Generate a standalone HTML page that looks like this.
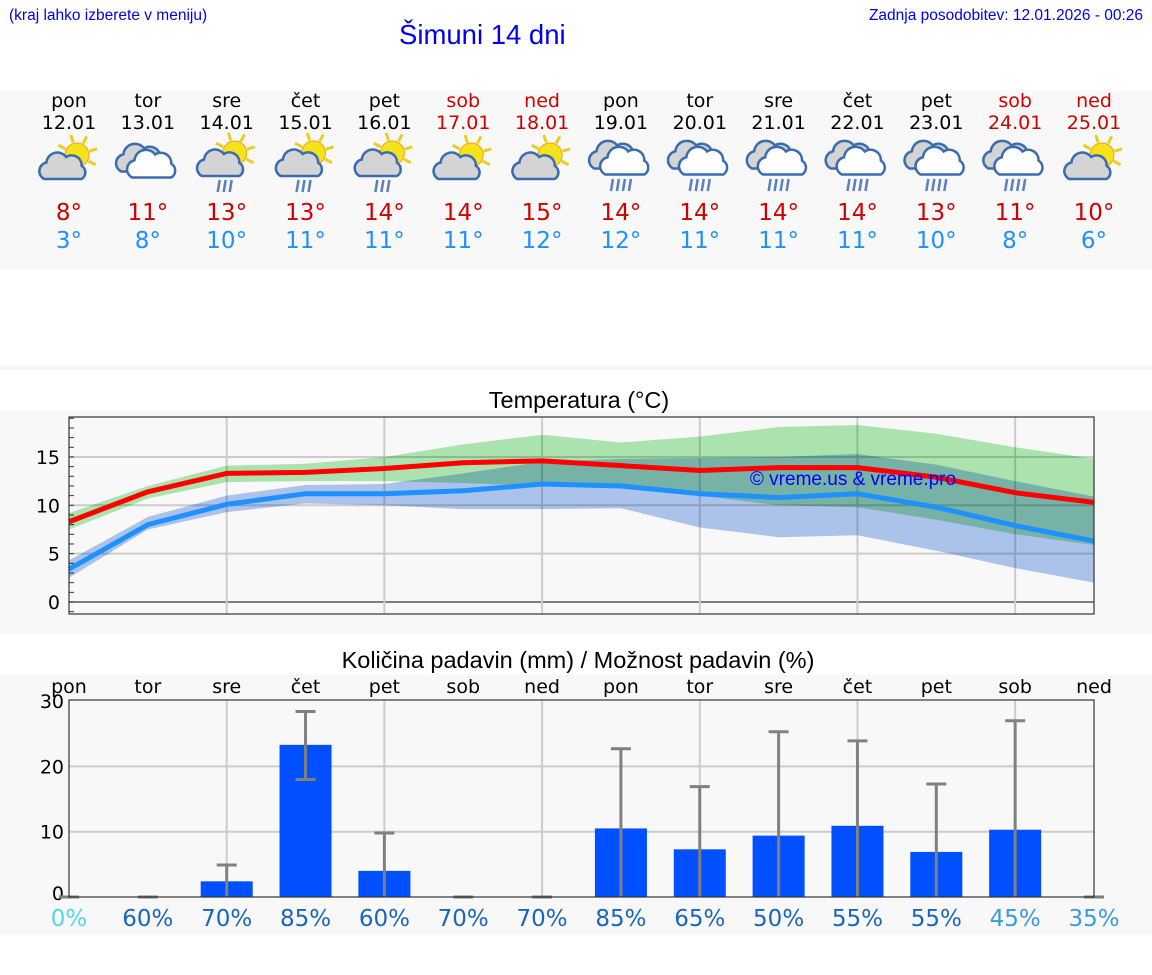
<!DOCTYPE html>
<html><head><meta charset="utf-8"><style>
body{margin:0;width:1152px;height:975px;background:#fff;position:relative;overflow:hidden;font-family:"DejaVu Sans","Liberation Sans",sans-serif}
.abs{position:absolute}
.mb{mix-blend-mode:multiply}
</style></head><body>
<div class="abs" style="left:9px;top:7px;font:15.5px 'Liberation Sans',sans-serif;color:#0000ee">(kraj lahko izberete v meniju)</div>
<div class="abs" style="left:399px;top:19px;font:27.5px 'Liberation Sans',sans-serif;color:#0000ee">Šimuni 14 dni</div>
<div class="abs" style="right:9px;top:7px;font:15.5px 'Liberation Sans',sans-serif;color:#0000ee">Zadnja posodobitev: 12.01.2026 - 00:26</div>
<svg id="s" class="abs" style="left:0;top:0" width="1152" height="975"></svg>
<script>
const days=["pon","tor","sre","čet","pet","sob","ned","pon","tor","sre","čet","pet","sob","ned"];
const dates=["12.01","13.01","14.01","15.01","16.01","17.01","18.01","19.01","20.01","21.01","22.01","23.01","24.01","25.01"];
const icons=["ps","cc","psr","psr","psr","ps","ps","cr","cr","cr","cr","cr","cr","ps"];
const tmaxLbl=[8,11,13,13,14,14,15,14,14,14,14,13,11,10];
const tminLbl=[3,8,10,11,11,11,12,12,11,11,11,10,8,6];
const tmax=[8.3,11.4,13.3,13.4,13.8,14.4,14.6,14.1,13.6,13.9,13.9,12.9,11.3,10.3];
const tmin=[3.4,8.0,10.1,11.2,11.2,11.5,12.2,12.0,11.2,10.8,11.2,9.8,7.9,6.3];
const maxHi=[9.2,12.0,14.1,14.3,15.0,16.3,17.3,16.5,17.1,18.1,18.3,17.4,16.0,14.8];
const maxLo=[7.5,10.7,12.4,12.5,12.5,12.3,12.0,11.9,11.0,10.0,9.8,8.5,7.0,5.9];
const minHi=[4.3,8.8,11.0,12.1,12.2,13.3,14.5,14.8,14.9,15.0,15.3,14.2,12.5,10.9];
const minLo=[2.5,7.5,9.3,10.2,10.0,9.6,9.6,9.7,7.7,6.7,6.9,5.3,3.5,2.0];
const tTicks=[0,5,10,15];
const precip=[0,0,2.4,23.3,4.0,0,0,10.5,7.3,9.4,10.9,6.9,10.3,0];
const errHi=[0,0,4.9,28.4,9.8,0,0,22.7,16.9,25.3,23.9,17.3,27.0,0];
const errLo=[0,0,0,18.0,0,0,0,0,0,0,0,0,0,0];
const prob=[0,60,70,85,60,70,70,85,65,50,55,55,45,35];
const pTicks=[0,10,20,30];

const NS="http://www.w3.org/2000/svg",S=document.getElementById('s');
function el(t,a,p){const e=document.createElementNS(NS,t);for(const k in a)e.setAttribute(k,a[k]);(p||S).appendChild(e);return e;}
function txt(x,y,s,a,p){const e=el('text',Object.assign({x:x,y:y,'text-anchor':'middle','font-family':'DejaVu Sans, Liberation Sans, sans-serif','font-size':19},a),p);e.textContent=s;return e;}
const X0=69,X1=1094,N=14;
const xd=i=>X0+i*(X1-X0)/(N-1);
const yt=v=>602-v*9.67;
const yp=v=>897-v*6.53;

let b=el('rect',{x:0,y:90,width:1152,height:180,fill:'#f8f8f8'});
b=el('rect',{x:0,y:365,width:1152,height:5,fill:'#f6f6f6'});
b=el('rect',{x:0,y:410,width:1152,height:224,fill:'#f8f8f8'});
b=el('rect',{x:0,y:675,width:1152,height:260,fill:'#f8f8f8'});

function icon(kind,cx,cy,g){
  const sun=(sx,sy)=>{for(let k=0;k<8;k++){const a=k*Math.PI/4-0.3;el('line',{x1:sx+Math.cos(a)*13,y1:sy+Math.sin(a)*13,x2:sx+Math.cos(a)*21,y2:sy+Math.sin(a)*21,stroke:'#e8d020','stroke-width':3},g);}el('circle',{cx:sx,cy:sy,r:12,fill:'#f5e31a',stroke:'#f0a020','stroke-width':1},g);};
  const cloud=(ox,oy,fill,sc)=>{const p=`M${ox-18*sc},${oy+10*sc} a${8*sc},${8*sc} 0 0 1 ${2*sc},${-15*sc} a${10*sc},${10*sc} 0 0 1 ${18*sc},${-5*sc} a${9*sc},${9*sc} 0 0 1 ${14*sc},${8*sc} a${7*sc},${7*sc} 0 0 1 ${0},${12*sc} z`;el('path',{d:p,fill:fill,stroke:'#3a6cb0','stroke-width':2.5},g);};
  const rain=(ox,oy,n)=>{for(let k=0;k<n;k++)el('line',{x1:ox+k*6+2,y1:oy,x2:ox+k*6,y2:oy+12,stroke:'#5a80c0','stroke-width':2.5},g);};
  if(kind=='ps'){sun(cx+8,cy-8);cloud(cx-5,cy+5,'#d4d4d4',1.1);}
  else if(kind=='psr'){sun(cx+8,cy-10);cloud(cx-5,cy+2,'#d4d4d4',1.1);rain(cx-9,cy+17,3);}
  else if(kind=='cc'){cloud(cx-6,cy-3,'#d4d4d4',1.15);cloud(cx+5,cy+3,'#fff',1.15);}
  else {cloud(cx-6,cy-6,'#d4d4d4',1.15);cloud(cx+5,cy+0,'#fff',1.15);rain(cx-10,cy+16,4);}
}
for(let i=0;i<N;i++){
  const x=xd(i),we=i==5||i==6||i==12||i==13,c=we?'#d00000':'#000';
  let t=txt(x,107,days[i],{fill:c});
  t=txt(x,129,dates[i],{fill:c});
  const g=el('g',{});
  icon(icons[i],x,163,g);
  t=txt(x,220,tmaxLbl[i]+'°',{fill:'#d00000','font-size':23});
  t=txt(x,248,tminLbl[i]+'°',{fill:'#2090ff','font-size':23});
}

let t=txt(579,408,'Temperatura (°C)',{fill:'#000','font-size':23.5,'font-family':'Liberation Sans, sans-serif'});
el('rect',{x:X0,y:417,width:X1-X0,height:197,fill:'#f8f8f8'});
for(const v of tTicks){let l=el('line',{x1:X0,x2:X1,y1:yt(v),y2:yt(v),stroke:v==0?'#555':'#ccc','stroke-width':v==0?1.5:2});
 let tt=txt(60,yt(v)+7,String(v),{'text-anchor':'end'});}
for(let v=-1;v<=19;v++)el('line',{x1:X0,x2:X0+5,y1:yt(v),y2:yt(v),stroke:'#333','stroke-width':1});
for(let i=2;i<N;i+=2)el('line',{x1:xd(i),x2:xd(i),y1:417,y2:614,stroke:'#ccc','stroke-width':2});
function band(hi,lo,fill,name){let d='M'+hi.map((v,i)=>xd(i)+','+yt(v)).join(' L')+' L'+lo.map((v,i)=>xd(i)+','+yt(v)).reverse().join(' L')+'Z';let p=el('path',{d:d,fill:fill,class:'mb'});}
band(minHi,minLo,'#b0c9f2','min-temp-range');
band(maxHi,maxLo,'#b0eab4','max-temp-range');
function line(v,c,name){let p=el('polyline',{points:v.map((y,i)=>xd(i)+','+yt(y)).join(' '),fill:'none',stroke:c,'stroke-width':5,'stroke-linejoin':'round'});}
line(tmax,'#ff0000','max-temp-line');line(tmin,'#1e90ff','min-temp-line');
t=txt(853,485,'© vreme.us & vreme.pro',{fill:'#0000ff','font-size':19,'font-family':'Liberation Sans, sans-serif'});
el('rect',{x:X0,y:417,width:X1-X0,height:197,fill:'none',stroke:'#333','stroke-width':1.2});

t=txt(578,668,'Količina padavin (mm) / Možnost padavin (%)',{fill:'#000','font-size':23.5,'font-family':'Liberation Sans, sans-serif'});
el('rect',{x:X0,y:700,width:X1-X0,height:197,fill:'#f8f8f8'});
for(const v of pTicks){if(v>0&&v<30){let l=el('line',{x1:X0,x2:X1,y1:yp(v),y2:yp(v),stroke:'#ccc','stroke-width':2});}
 let tt=txt(64,(v==0?yp(v)-4:yp(v))+7,String(v),{'text-anchor':'end'});}
for(let i=2;i<N;i+=2)el('line',{x1:xd(i),x2:xd(i),y1:700,y2:897,stroke:'#ccc','stroke-width':2});
const pc=p=>p==0?'#50d8e8':p<=45?'#3a9ae0':'#1a66bb';
for(let i=0;i<N;i++){
  const x=xd(i);
  let tt=txt(x,693,days[i],{fill:'#000'});
  if(precip[i]>0){let r=el('rect',{x:x-26,y:yp(precip[i]),width:52,height:yp(0)-yp(precip[i]),fill:'#0050ff'});}
  const g=el('g',{stroke:'#808080','stroke-width':3});
  el('line',{x1:x,x2:x,y1:yp(errHi[i]),y2:yp(errLo[i])},g);
  el('line',{x1:x-10,x2:x+10,y1:yp(errHi[i]),y2:yp(errHi[i])},g);
  if(errLo[i]>0)el('line',{x1:x-10,x2:x+10,y1:yp(errLo[i]),y2:yp(errLo[i])},g);
  tt=txt(x,926,prob[i]+'%',{fill:pc(prob[i]),'font-size':23});
}
el('rect',{x:X0,y:700,width:X1-X0,height:197,fill:'none',stroke:'#333','stroke-width':1.2});
</script>
</body></html>
